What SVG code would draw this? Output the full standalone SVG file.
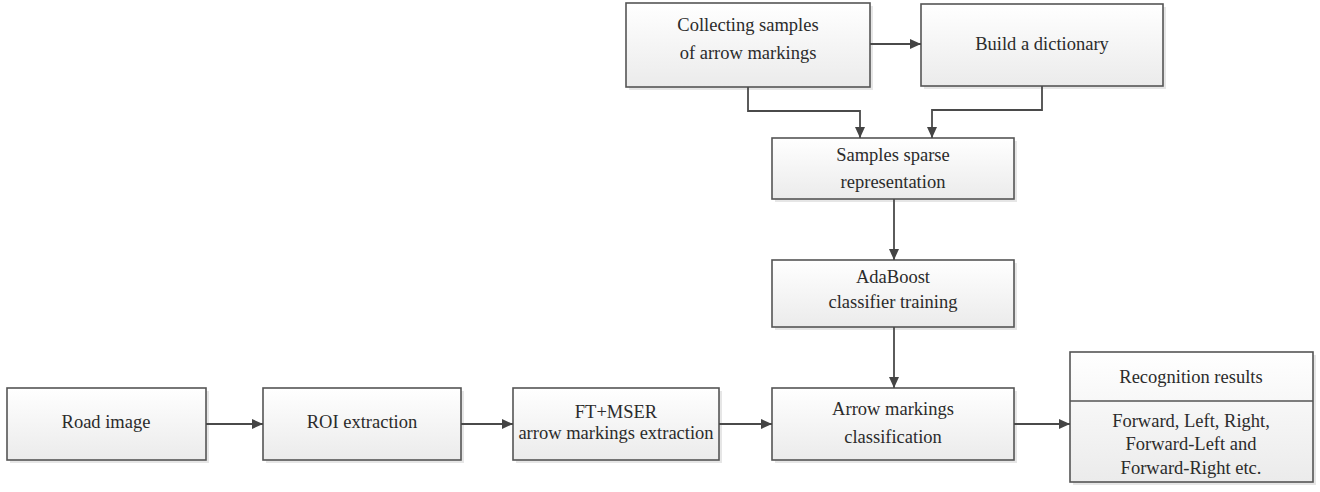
<svg xmlns="http://www.w3.org/2000/svg" width="1320" height="492" viewBox="0 0 1320 492">
<style>
.box{fill:url(#g);stroke:#555;stroke-width:1.6}
.sh{fill:#e6e6e6}
.t{font-family:"Liberation Serif","Times New Roman",serif;font-size:18.5px;fill:#2b2b2b;text-anchor:middle}
.c{fill:none;stroke:#4a4a4a;stroke-width:1.8}
</style>
<defs>
<linearGradient id="g" x1="0" y1="0" x2="0" y2="1"><stop offset="0" stop-color="#ffffff"/><stop offset="1" stop-color="#ebebeb"/></linearGradient>
<marker id="ah" markerUnits="userSpaceOnUse" markerWidth="12" markerHeight="12" viewBox="0 0 12 12" refX="11" refY="6" orient="auto"><path d="M0,1 L11,6 L0,11 z" fill="#444"/></marker>
</defs>
<rect width="1320" height="492" fill="#fff"/>
<g id="collect"><rect class="sh" x="629" y="6" width="244" height="84"/><rect class="box" x="626" y="3" width="244" height="84"/><text class="t" x="748" y="31">Collecting samples</text><text class="t" x="748" y="59">of arrow markings</text></g>
<g id="build"><rect class="sh" x="924" y="7" width="242" height="82"/><rect class="box" x="921" y="4" width="242" height="82"/><text class="t" x="1042" y="50">Build a dictionary</text></g>
<g id="samples"><rect class="sh" x="775" y="141" width="242" height="61"/><rect class="box" x="772" y="138" width="242" height="61"/><text class="t" x="893" y="161">Samples sparse</text><text class="t" x="893" y="188">representation</text></g>
<g id="adaboost"><rect class="sh" x="775" y="263" width="242" height="67"/><rect class="box" x="772" y="260" width="242" height="67"/><text class="t" x="893" y="283">AdaBoost</text><text class="t" x="893" y="308">classifier training</text></g>
<g id="road"><rect class="sh" x="10" y="391" width="199" height="72"/><rect class="box" x="7" y="388" width="199" height="72"/><text class="t" x="106" y="428">Road image</text></g>
<g id="roi"><rect class="sh" x="266" y="391" width="198" height="72"/><rect class="box" x="263" y="388" width="198" height="72"/><text class="t" x="362" y="428">ROI extraction</text></g>
<g id="ftmser"><rect class="sh" x="516" y="391" width="206" height="72"/><rect class="box" x="513" y="388" width="206" height="72"/><text class="t" x="616" y="418">FT+MSER</text><text class="t" x="616" y="439">arrow markings extraction</text></g>
<g id="arrowcls"><rect class="sh" x="775" y="391" width="242" height="72"/><rect class="box" x="772" y="388" width="242" height="72"/><text class="t" x="893" y="415">Arrow markings</text><text class="t" x="893" y="443">classification</text></g>
<g id="recog"><rect class="sh" x="1073" y="355" width="243" height="130"/><rect class="box" x="1070" y="352" width="243" height="130"/><line x1="1070" y1="401" x2="1313" y2="401" stroke="#555" stroke-width="1.6"/><text class="t" x="1191" y="383">Recognition results</text><text class="t" x="1191" y="427">Forward, Left, Right,</text><text class="t" x="1191" y="450">Forward-Left and</text><text class="t" x="1191" y="474">Forward-Right etc.</text></g>
<g id="connectors">
<path class="c" marker-end="url(#ah)" d="M870,44 H921"/>
<path class="c" marker-end="url(#ah)" d="M748,87 V111 H860 V138"/>
<path class="c" marker-end="url(#ah)" d="M1042,86 V110 H932 V138"/>
<path class="c" marker-end="url(#ah)" d="M894,199 V260"/>
<path class="c" marker-end="url(#ah)" d="M894,327 V388"/>
<path class="c" marker-end="url(#ah)" d="M206,424 H263"/>
<path class="c" marker-end="url(#ah)" d="M461,424 H513"/>
<path class="c" marker-end="url(#ah)" d="M719,424 H772"/>
<path class="c" marker-end="url(#ah)" d="M1014,424 H1070"/>
</g>
</svg>
